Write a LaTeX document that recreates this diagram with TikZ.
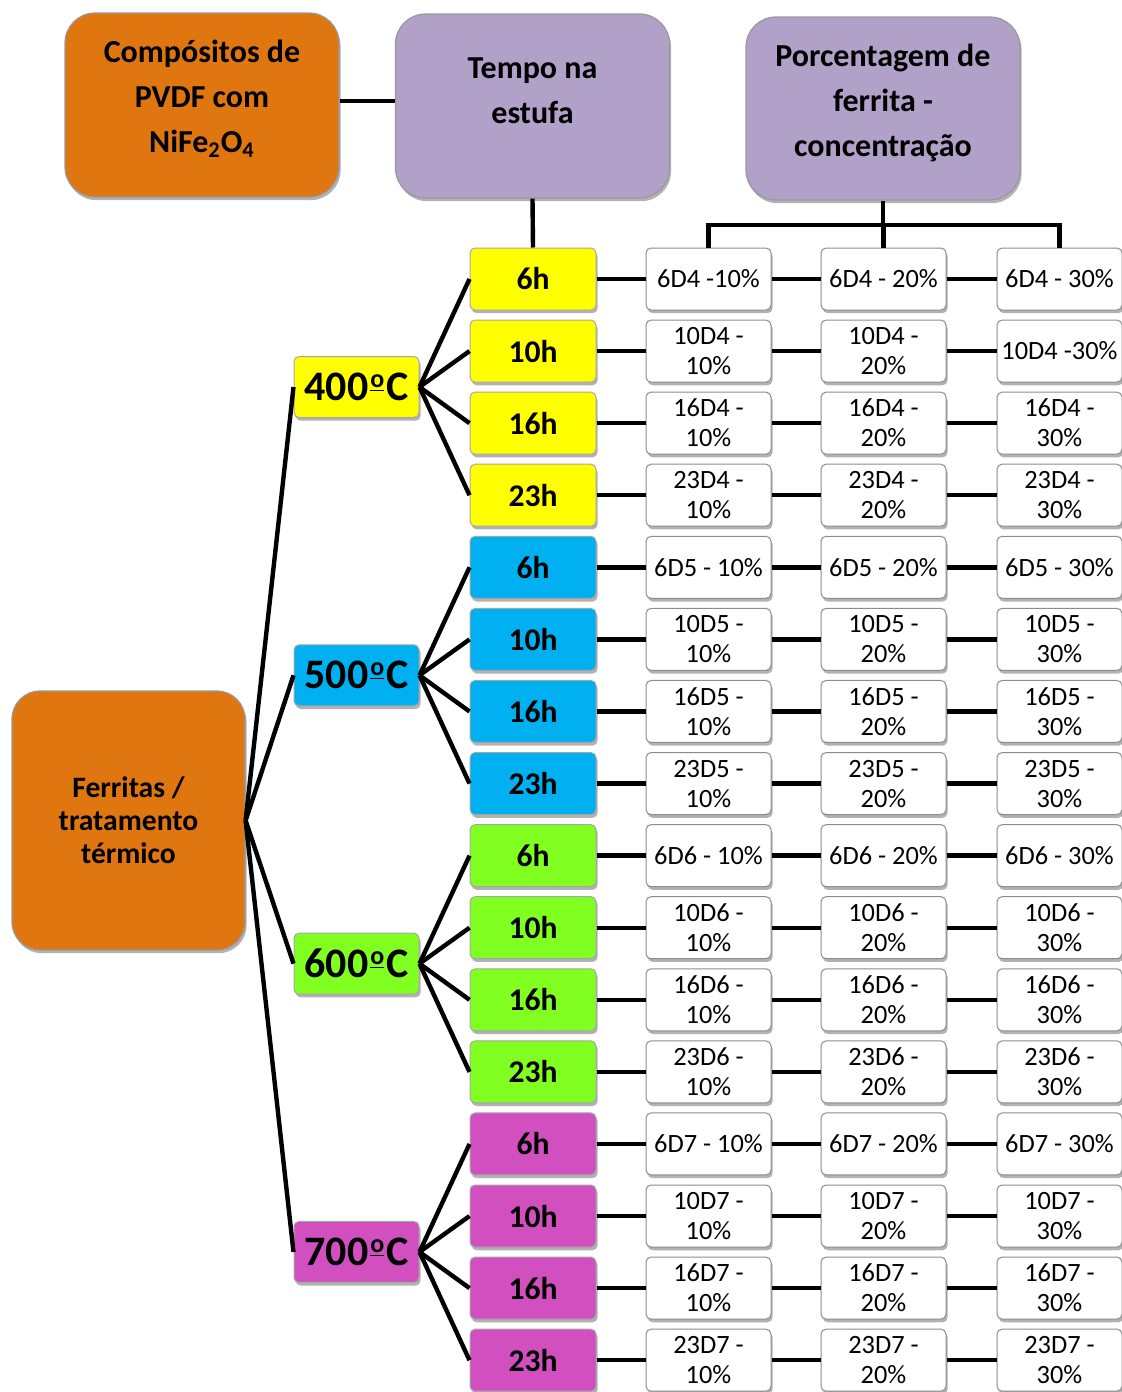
\documentclass[tikz,border=0pt]{standalone}
\usepackage{fontspec}
\setmainfont{Carlito}
\usetikzlibrary{shadows}
\definecolor{corange}{HTML}{E0760F}
\definecolor{cpurple}{HTML}{B1A0C7}
\definecolor{cyel}{HTML}{FFFF00}
\definecolor{cblu}{HTML}{00B0F0}
\definecolor{cgrn}{HTML}{80FF20}
\definecolor{cmag}{HTML}{D24FC0}
\newcommand\ordm{\kern0.9pt\raisebox{6.8pt}{\fontsize{13}{13}\selectfont\underline{o}}\kern0.9pt}
\newcommand\valtext[4]{%
  \ifnum#4=1\relax
    \ifnum#2#3=41\relax 6D4 -10\%%
    \else 6D#2 - #30\%%
    \fi
  \else
    \ifnum#2#4#3=423\relax 10D4 -30\%%
    \else #1D#2 -\\#30\%%
    \fi
  \fi}
\tikzset{
  shad/.style={drop shadow={shadow xshift=0.8pt, shadow yshift=-1.6pt, opacity=0.3, fill=black}},
  topbox/.style={shad, draw=black!40, line width=0.6pt, rounded corners=15pt, minimum width=137pt, inner sep=0pt},
  toptext/.style={font=\fontsize{16}{22.5}\selectfont\bfseries, align=center, inner sep=0pt},
  ferbox/.style={shad, draw=black!40, line width=0.6pt, fill=corange, rounded corners=14pt, minimum width=116.5pt, minimum height=129.5pt, inner sep=0pt, align=center, font=\fontsize{14.8}{16.5}\selectfont\bfseries},
  tempbox/.style={shad, draw=black!35, line width=0.5pt, rounded corners=2.5pt, minimum width=62.5pt, minimum height=30.5pt, inner sep=0pt, font=\fontsize{21}{25}\selectfont\bfseries},
  timebox/.style={shad, draw=black!35, line width=0.5pt, rounded corners=2.5pt, minimum width=63pt, minimum height=31pt, inner sep=0pt, font=\fontsize{15.8}{18}\selectfont\bfseries},
  valbox/.style={shad, draw=black!45, line width=0.5pt, fill=white, rounded corners=2.5pt, minimum width=62.5pt, minimum height=31pt, inner sep=0pt, align=center, font=\fontsize{13.2}{15}\selectfont},
  conn/.style={line width=2.2pt, black}
}
\begin{document}
\begin{tikzpicture}[x=0.5pt,y=-0.5pt]
\useasboundingbox (0,0) rectangle (1122,1392);
% top boxes
\node[topbox, fill=corange, minimum height=92pt] (comp) at (202,105) {};
\node[toptext] (compt) at (202,99) {Compósitos de\\PVDF com\\NiFe\textsubscript{2}O\textsubscript{4}};
\node[topbox, fill=cpurple, minimum height=92pt] (tempo) at (532.5,106) {};
\node[toptext] (tempot) at (532.5,91) {Tempo na\\estufa};
\node[topbox, fill=cpurple, minimum height=91.5pt] (porc) at (883,108.5) {};
\node[toptext] (porct) at (883,103) {Porcentagem de\\ferrita -\\concentração};
\coordinate (cl) at (0,101);
\draw[conn] (comp.east |- cl) -- (tempo.west |- cl);
% left box
\node[ferbox] (fer) at (128.5,820.5) {Ferritas /\\tratamento\\térmico};
% groups
\foreach \gi/\temp/\col/\dd in {0/400/cyel/4, 1/500/cblu/5, 2/600/cgrn/6, 3/700/cmag/7} {
  \pgfmathsetmacro\yc{279+72.08*(4*\gi)+108}
  \node[tempbox, fill=\col] (T\gi) at (356.5,\yc) {\temp\ordm C};
  \draw[conn] (fer.east) -- (T\gi.west);
  \foreach \ri/\hh in {1/6,2/10,3/16,4/23} {
    \pgfmathsetmacro\yr{279+72.08*(4*\gi+\ri-1)}
    \node[timebox, fill=\col] (H\gi\ri) at (533,\yr) {\hh h};
    \draw[conn] (T\gi.east) -- (H\gi\ri.west);
    \foreach \ci/\xx in {1/708.5, 2/883.5, 3/1059.5} {
      \node[valbox] (V\gi\ri\ci) at (\xx,\yr) {\valtext{\hh}{\dd}{\ci}{\ri}};
    }
    \draw[conn] (H\gi\ri.east) -- (V\gi\ri1.west);
    \draw[conn] (V\gi\ri1.east) -- (V\gi\ri2.west);
    \draw[conn] (V\gi\ri2.east) -- (V\gi\ri3.west);
  }
}
% top connectors
\draw[conn] (tempo.south) -- (H01.north);
\coordinate (bar) at (883,225);
\draw[conn] (porc.south) -- (bar);
\draw[conn, line cap=rect] (V011.north |- bar) -- (V013.north |- bar);
\draw[conn] (V011.north |- bar) -- (V011.north);
\draw[conn] (V012.north |- bar) -- (V012.north);
\draw[conn] (V013.north |- bar) -- (V013.north);
\end{tikzpicture}
\end{document}
